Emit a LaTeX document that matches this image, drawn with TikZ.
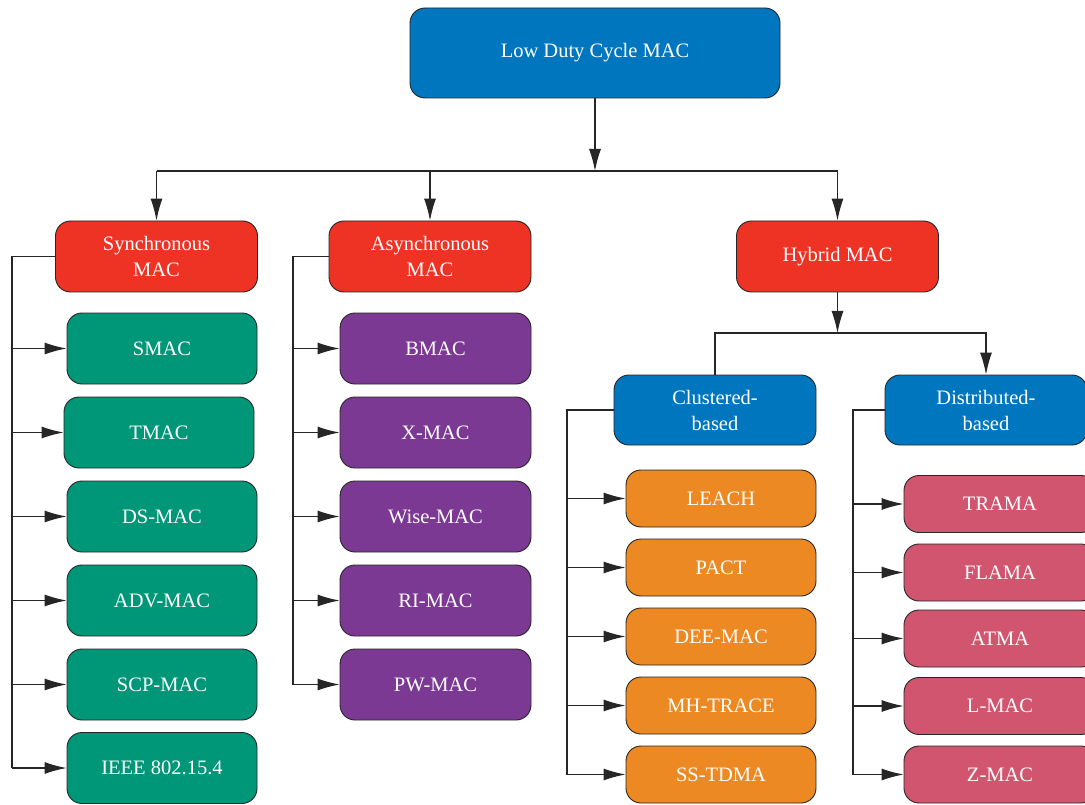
\documentclass[tikz,border=0pt]{standalone}
\usepackage{fontspec}
\setmainfont{Liberation Serif}
\usetikzlibrary{arrows.meta}
\definecolor{cblue}{RGB}{0,118,190}
\definecolor{cred}{RGB}{238,50,36}
\definecolor{cgreen}{RGB}{0,150,120}
\definecolor{cpurple}{RGB}{123,57,148}
\definecolor{corange}{RGB}{237,137,34}
\definecolor{cpink}{RGB}{210,85,112}
\tikzset{
  box/.style={draw=black!85, line width=0.9pt, rounded corners=15pt, text=white,
    align=center, inner sep=0pt, font=\fontsize{20.5}{26}\selectfont},
  bigbox/.style={box, minimum width=370pt, minimum height=90pt, fill=cblue},
  catbox/.style={box, minimum width=202pt, minimum height=71pt, fill=cred},
  subbox/.style={box, minimum width=202pt, minimum height=70pt, fill=cblue},
  greenbox/.style={box, minimum width=190pt, minimum height=71pt, fill=cgreen},
  purplebox/.style={box, minimum width=191pt, minimum height=71pt, fill=cpurple},
  orangebox/.style={box, minimum width=190pt, minimum height=57pt, fill=corange},
  pinkbox/.style={box, minimum width=192pt, minimum height=57pt, fill=cpink},
  link/.style={draw=black!85, line width=1.1pt},
  arr/.style={link, -{Latex[length=22pt,width=12pt]}}
}
\begin{document}
\begin{tikzpicture}[x=1pt,y=-1pt]
\useasboundingbox (0,0) rectangle (1085,805);

% root
\node[bigbox] (root) at (595,53) {Low Duty Cycle MAC};

% main categories
\node[catbox] (sync)  at (156.5,256.5) {Synchronous\\MAC};
\node[catbox] (async) at (430,256.5) {Asynchronous\\MAC};
\node[catbox] (hyb)   at (837.5,256.5) {Hybrid MAC};

% hybrid subcategories
\node[subbox] (clus) at (715,410) {Clustered-\\based};
\node[subbox] (dist) at (986,410) {Distributed-\\based};

% synchronous protocols
\node[greenbox] (smac) at (162,348.5) {SMAC};
\node[greenbox] (tmac) at (159,432.5) {TMAC};
\node[greenbox] (dsmac) at (162,516.5) {DS-MAC};
\node[greenbox] (advmac) at (162,600.5) {ADV-MAC};
\node[greenbox] (scpmac) at (162,684.5) {SCP-MAC};
\node[greenbox] (ieee) at (162,768) {IEEE 802.15.4};

% asynchronous protocols
\node[purplebox] (bmac) at (435.5,348.5) {BMAC};
\node[purplebox] (xmac) at (435.5,432.5) {X-MAC};
\node[purplebox] (wisemac) at (435.5,516.5) {Wise-MAC};
\node[purplebox] (rimac) at (435.5,600.5) {RI-MAC};
\node[purplebox] (pwmac) at (435.5,684.5) {PW-MAC};

% clustered-based protocols
\node[orangebox] (leach) at (721,498.5) {LEACH};
\node[orangebox] (pact) at (721,567.5) {PACT};
\node[orangebox] (deemac) at (721,636.5) {DEE-MAC};
\node[orangebox] (mhtrace) at (721,705.5) {MH-TRACE};
\node[orangebox] (sstdma) at (721,774.5) {SS-TDMA};

% distributed-based protocols
\node[pinkbox] (trama) at (1000,504) {TRAMA};
\node[pinkbox] (flama) at (1000,572.5) {FLAMA};
\node[pinkbox] (atma) at (1000,638.5) {ATMA};
\node[pinkbox] (lmac) at (1000,706) {L-MAC};
\node[pinkbox] (zmac) at (1000,774.5) {Z-MAC};

% root to categories
\coordinate (j0) at (595,171);
\coordinate (j0l) at (156.5,171);
\coordinate (j0r) at (837.5,171);
\draw[arr] (root.south) -- (j0);
\draw[link] (j0l) -- (j0r);
\draw[arr] (j0l) -- (sync.north);
\draw[arr] (async.north |- j0) -- (async.north);
\draw[arr] (j0r) -- (hyb.north);

% hybrid to subcategories
\coordinate (j1) at (837.5,333);
\draw[arr] (hyb.south) -- (j1);
\draw[link] (j1) -| (clus.north);
\draw[arr] (j1) -| (dist.north);

% trunk x positions of the four brackets
\coordinate (sx) at (12,0);
\coordinate (ax) at (293,0);
\coordinate (cx) at (567,0);
\coordinate (dx) at (853,0);

% synchronous bracket
\draw[link] (sync.west) -| (sx |- ieee.west);
\foreach \c in {smac,tmac,dsmac,advmac,scpmac,ieee}
  \draw[arr] (sx |- \c.west) -- (\c.west);
% asynchronous bracket
\draw[link] (async.west) -| (ax |- pwmac.west);
\foreach \c in {bmac,xmac,wisemac,rimac,pwmac}
  \draw[arr] (ax |- \c.west) -- (\c.west);
% clustered bracket
\draw[link] (clus.west) -| (cx |- sstdma.west);
\foreach \c in {leach,pact,deemac,mhtrace,sstdma}
  \draw[arr] (cx |- \c.west) -- (\c.west);
% distributed bracket
\draw[link] (dist.west) -| (dx |- zmac.west);
\foreach \c in {trama,flama,atma,lmac,zmac}
  \draw[arr] (dx |- \c.west) -- (\c.west);
\end{tikzpicture}
\end{document}
